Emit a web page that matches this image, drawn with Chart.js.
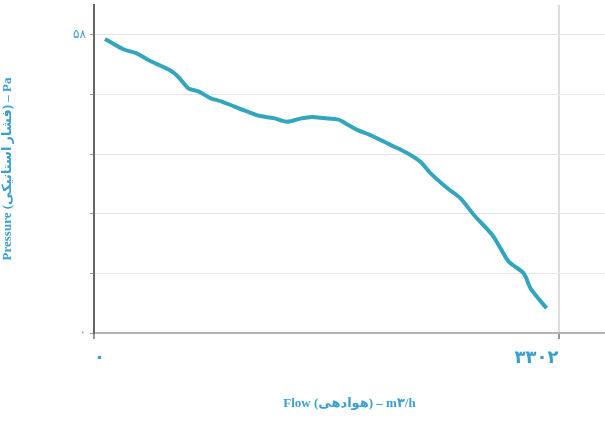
<!DOCTYPE html>
<html>
<head>
<meta charset="utf-8">
<script src="https://cdn.jsdelivr.net/npm/chart.js@4.4.0/dist/chart.umd.min.js"></script>
<style>
  html, body { margin: 0; padding: 0; background: #fff; }
  #wrap { width: 605px; height: 432px; }
</style>
</head>
<body>
<div id="wrap"><canvas id="myChart"></canvas></div>
<script>
// data

let flow     = [78, 209, 304, 386, 541, 600, 671, 742, 826, 909, 1087, 1181, 1276, 1371, 1466, 1549, 1632, 1739, 1786, 1870, 1964, 2106, 2225, 2320, 2391, 2510, 2605, 2699, 2830, 2889, 2948, 3044, 3067, 3103, 3217];
let pressure = [57.2, 55.2, 54.4, 53.1, 51.1, 49.8, 47.6, 47.0, 45.7, 45.0, 43.1, 42.2, 41.8, 41.1, 41.7, 42.0, 41.8, 41.5, 40.8, 39.5, 38.5, 36.6, 35.0, 33.3, 31.1, 28.2, 26.2, 23.0, 19.1, 16.5, 13.9, 11.9, 11.0, 8.7, 4.8];

let xTicks = [0, 3302];
let xTickLabels = ['۰', '۳۳۰۲'];
let yTicks = [0, 11.6, 23.2, 34.8, 46.4, 58];
let yTickLabels = {0: '۰', 58: '۵۸'};

let xTitle = 'Flow (هوادهی) – m۳/h';
let yTitle = 'Pressure (فشار استاتیکی) – Pa';

let points = flow.map((f, i) => ({x: f, y: pressure[i]}));

let textColor = '#3a9fcf';

let ctx = document.getElementById('myChart').getContext('2d');

new Chart(ctx, {
    type: 'line',
    data: {
        datasets: [{
            data: points,
            borderColor: '#33a6bd',
            borderWidth: 4,
            pointRadius: 0,
            tension: 0.3,
            fill: false
        }]
    },
    options: {
        responsive: true,
        maintainAspectRatio: false,
        animation: false,
        layout: { padding: { top: 5, right: 0, left: 0, bottom: 0 } },
        plugins: {
            legend: { display: false },
            tooltip: { enabled: false }
        },
        scales: {
            x: {
                type: 'linear',
                min: 0,
                max: 3302 * 1.1,
                afterBuildTicks: (axis) => { axis.ticks = xTicks.map(v => ({value: v})); },
                afterFit: (axis) => {
                    axis.height = 99;
                    axis.paddingLeft = 0;
                    axis.paddingRight = 0;
                },
                ticks: {
                    align: 'inner',
                    padding: 9,
                    color: textColor,
                    font: { family: "'DejaVu Sans'", size: 18, weight: 'bold' },
                    callback: (v) => xTickLabels[xTicks.indexOf(v)]
                },
                grid: {
                    color: (c) => c.tick && c.tick.value === 3302 ? '#dddddd' : 'rgba(0,0,0,0)',
                    tickColor: '#999999',
                    tickLength: 6,
                    lineWidth: 2
                },
                border: { color: '#b5b5b5', width: 2 },
                title: {
                    display: true,
                    text: xTitle,
                    color: textColor,
                    font: { family: "'Liberation Serif', 'DejaVu Sans'", size: 13, weight: 'bold' },
                    padding: { top: 0, bottom: 21 }
                }
            },
            y: {
                min: 0,
                max: 58 * 1.1,
                afterBuildTicks: (axis) => { axis.ticks = yTicks.map(v => ({value: v})); },
                afterFit: (axis) => {
                    axis.width = 94;
                    axis.paddingTop = 0;
                    axis.paddingBottom = 0;
                },
                ticks: {
                    padding: 4,
                    color: textColor,
                    font: { family: "'DejaVu Sans'", size: 12 },
                    callback: (v) => yTickLabels[v] || ''
                },
                grid: {
                    color: '#e6e6e6',
                    tickColor: '#999999',
                    tickLength: 4,
                    lineWidth: 1
                },
                border: { color: '#666666', width: 2 },
                title: {
                    display: true,
                    text: yTitle,
                    color: textColor,
                    font: { family: "'Liberation Serif', 'DejaVu Sans'", size: 13, weight: 'bold' },
                    padding: { top: 0, bottom: 9 }
                }
            }
        }
    }
});
</script>
</body>
</html>
